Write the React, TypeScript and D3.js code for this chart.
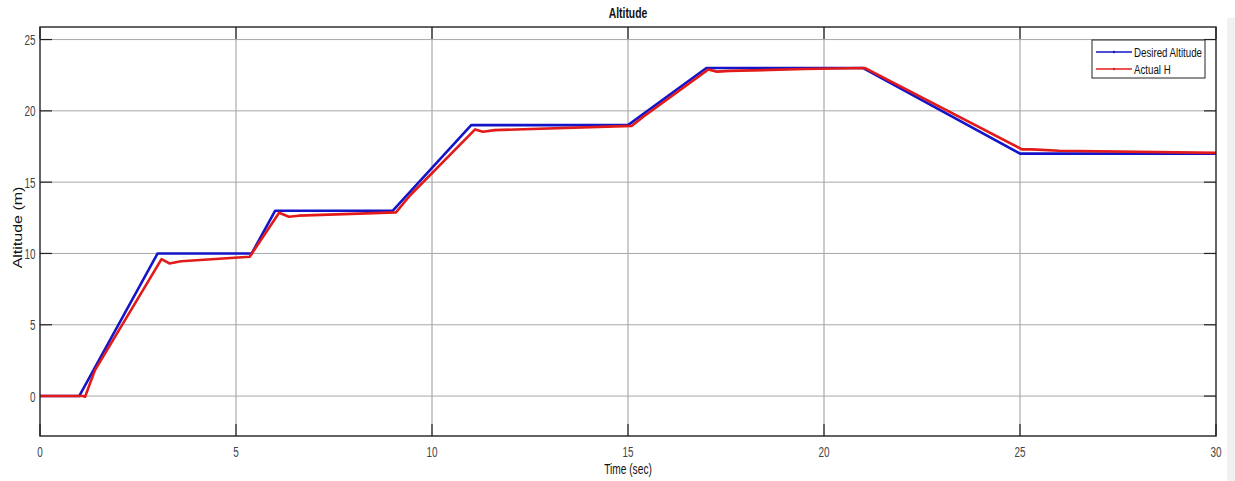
import React from "react";
import * as d3 from "d3";

// Desired altitude set-point (time in sec, altitude in m)
const desiredT = [0, 1, 3, 5.4, 6, 9, 11, 15, 17, 21, 25, 30];
const desiredH = [0, 0, 10, 10, 13, 13, 19, 19, 23, 23, 17, 17];

const actualT = [0, 1.1, 1.15, 1.4, 3.1, 3.3, 3.6, 5.35, 5.6, 6.1, 6.35, 6.6, 9.08, 9.45, 11.1, 11.3, 11.6, 15.1, 15.4, 17.05, 17.27, 17.6, 19.5, 21.05, 25.05, 25.3, 26, 30];
const actualH = [0, 0, -0.05, 1.8, 9.6, 9.3, 9.45, 9.77, 10.8, 12.85, 12.57, 12.65, 12.88, 14.1, 18.7, 18.53, 18.65, 18.95, 19.6, 22.9, 22.75, 22.8, 22.93, 23.0, 17.3, 17.3, 17.2, 17.05];

const xTicks = [0, 5, 10, 15, 20, 25, 30];
const yTicks = [0, 5, 10, 15, 20, 25];

const seriesNames = ["Desired Altitude", "Actual H"];
const seriesColors = ["#1414c8", "#e21a1a"];

const W = 1235;
const H = 481;
const m = { left: 40, right: 1216, top: 27, bottom: 436 };
const font = "'Liberation Sans', Arial, sans-serif";

// the source screenshot was squeezed sideways, so text is drawn narrow
function Txt(props: {
  x: number;
  y: number;
  s: number;
  size: number;
  anchor?: string;
  bold?: boolean;
  rotate?: boolean;
  fill?: string;
  children: React.ReactNode;
}) {
  const tr = props.rotate
    ? `translate(${props.x},${props.y}) rotate(-90) scale(1,${props.s})`
    : `translate(${props.x},${props.y}) scale(${props.s},1)`;
  return (
    <text
      transform={tr}
      textAnchor={props.anchor || "start"}
      fontSize={props.size}
      fontWeight={props.bold ? "bold" : "normal"}
      fill={props.fill || "#111"}
    >
      {props.children}
    </text>
  );
}

export default function App() {
  const x = d3.scaleLinear().domain([0, 30]).range([m.left, m.right]);
  const y = d3.scaleLinear().domain([-2.8, 25.88]).range([m.bottom, m.top]);

  const line = d3
    .line<[number, number]>()
    .x((d) => x(d[0]))
    .y((d) => y(d[1]));

  const desired = desiredT.map((t, i) => [t, desiredH[i]] as [number, number]);
  const actual = actualT.map((t, i) => [t, actualH[i]] as [number, number]);

  const pw = m.right - m.left;
  const ph = m.bottom - m.top;

  return (
    <svg
      width={W}
      height={H}
      style={{ position: "absolute", left: 0, top: 0, background: "#fff" }}
      fontFamily={font}
    >
      <rect x={1227} y={18} width={8} height={H - 18} fill="#f1f1f1" />
      <rect x={m.left} y={m.top} width={pw} height={ph} fill="#fff" />

      {/* grid */}
      {xTicks.slice(1, -1).map((t) => (
        <line key={"gx" + t} x1={x(t)} x2={x(t)} y1={m.top} y2={m.bottom} stroke="#9a9a9a" strokeWidth={1} />
      ))}
      {yTicks.map((t) => (
        <line key={"gy" + t} x1={m.left} x2={m.right} y1={y(t)} y2={y(t)} stroke="#a8a8a8" strokeWidth={1} />
      ))}

      {/* tick marks, inside the box */}
      {xTicks.map((t) => (
        <g key={"tx" + t}>
          <line x1={x(t)} x2={x(t)} y1={m.bottom} y2={m.bottom - 12} stroke="#222" strokeWidth={1.2} />
          <line x1={x(t)} x2={x(t)} y1={m.top} y2={m.top + 12} stroke="#222" strokeWidth={1.2} />
        </g>
      ))}
      {yTicks.map((t) => (
        <g key={"ty" + t}>
          <line x1={m.left} x2={m.left + 12} y1={y(t)} y2={y(t)} stroke="#222" strokeWidth={1.2} />
          <line x1={m.right} x2={m.right - 12} y1={y(t)} y2={y(t)} stroke="#222" strokeWidth={1.2} />
        </g>
      ))}

      {/* data */}
      <path d={line(desired) || ""} fill="none" stroke={seriesColors[0]} strokeWidth={2.6} strokeLinejoin="round" />
      <path d={line(actual) || ""} fill="none" stroke={seriesColors[1]} strokeWidth={2.6} strokeLinejoin="round" />

      {/* box */}
      <rect x={m.left} y={m.top} width={pw} height={ph} fill="none" stroke="#222" strokeWidth={1.4} />

      {/* tick labels */}
      {xTicks.map((t) => (
        <Txt key={"lx" + t} x={x(t)} y={457} s={0.66} size={15} anchor="middle" fill="#444">
          {t}
        </Txt>
      ))}
      {yTicks.map((t) => (
        <Txt key={"ly" + t} x={35.5} y={y(t) + 5.5} s={0.66} size={15} anchor="end" fill="#444">
          {t}
        </Txt>
      ))}

      {/* titles */}
      <Txt x={628} y={18} s={0.74} size={14} anchor="middle" bold>
        Altitude
      </Txt>
      <Txt x={628} y={474} s={0.68} size={15} anchor="middle">
        Time (sec)
      </Txt>
      <Txt x={22} y={(m.top + m.bottom) / 2 - 4} s={0.75} size={16} anchor="middle" rotate>
        Altitude (m)
      </Txt>

      {/* legend */}
      <g>
        <rect x={1092} y={40} width={113} height={38} fill="#fff" stroke="#222" strokeWidth={1} />
        {seriesNames.map((n, i) => (
          <g key={n}>
            <line x1={1096} x2={1132} y1={52 + i * 17} y2={52 + i * 17} stroke={seriesColors[i]} strokeWidth={1.3} />
            <circle cx={1114} cy={52 + i * 17} r={1.2} fill={seriesColors[i]} />
            <Txt x={1134} y={56.5 + i * 17} s={0.72} size={13.5}>
              {n}
            </Txt>
          </g>
        ))}
      </g>
    </svg>
  );
}
